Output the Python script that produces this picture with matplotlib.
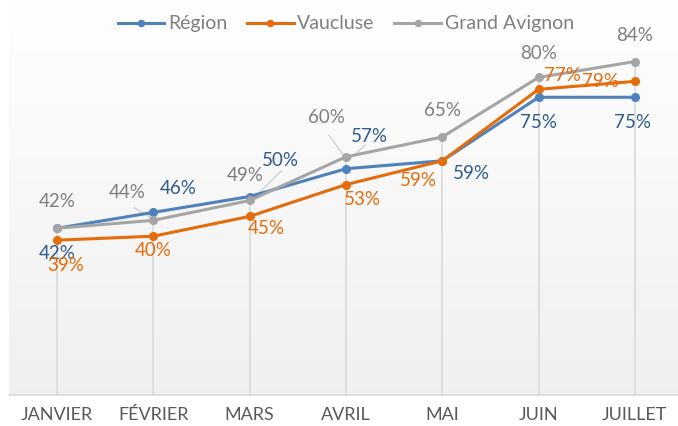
import numpy as np
from matplotlib import pyplot as plt

months = ["JANVIER", "FÉVRIER", "MARS", "AVRIL", "MAI", "JUIN", "JUILLET"]
region = [42, 46, 50, 57, 59, 75, 75]
vaucluse = [39, 40, 45, 53, 59, 77, 79]
avignon = [42, 44, 49, 60, 65, 80, 84]

blue = "#4f81bd"
orange = "#e46c0a"
grey = "#a5a5a5"

plt.rcParams['font.family'] = ['Lato', 'DejaVu Sans']

fig = plt.figure(figsize=(6.78, 4.26), dpi=100)
ax = fig.add_axes([9/678, 31/426, 674/678, 395/426])

x = np.arange(len(months))
ax.set_xlim(-0.5, 6.5)
ax.set_ylim(0, 99.5)

# fond en degradé blanc -> gris clair
grad = np.linspace(1.0, 0.94, 256).reshape(-1, 1)
ax.imshow(np.dstack([grad, grad, grad]), extent=[-0.5, 6.5, 0, 99.5],
          aspect='auto', zorder=0, origin='upper')

# lignes de projection
tops = np.maximum(np.maximum(region, vaucluse), avignon)
ax.vlines(x, 0, tops, color="#d9d9d9", lw=1.2, zorder=1)

ax.plot(x, region, color=blue, lw=2.2, marker='o', ms=5.5, label="Région", zorder=3)
ax.plot(x, vaucluse, color=orange, lw=2.2, marker='o', ms=5.5, label="Vaucluse", zorder=3)
ax.plot(x, avignon, color=grey, lw=2.2, marker='o', ms=5.5, label="Grand Avignon", zorder=3)

# traits de rappel
for (x0, y0), (x1, y1) in [((0.8, 47.2), (0.98, 44.6)), ((2.33, 56.5), (2.05, 49.8)),
                            ((2.82, 65.5), (2.98, 60.3)), ((3.2, 63), (3.02, 59))]:
    ax.plot([x0, x1], [y0, y1], color="#c8c8c8", lw=0.8, zorder=2)

# étiquettes (décalage en points)
reg_off = [(0, -18), (18, 17), (22, 26), (17, 23), (21, -9), (0, -18), (-2, -18)]
vau_off = [(6, -18), (0, -10), (12, -9), (12, -11), (-17, -14), (17, 10), (-25, 0)]
avi_off = [(0, 19), (-19, 20), (-3, 18), (-14, 28), (0, 19), (0, 17), (0, 19)]

lab_cols = [("#2e5b8c", region, reg_off), (orange, vaucluse, vau_off), ("#7f7f7f", avignon, avi_off)]
for col, vals, offs in lab_cols:
    for xi, v, off in zip(x, vals, offs):
        ax.annotate(f"{v}%", (xi, v), xytext=off, textcoords='offset points',
                    ha='center', va='center', fontsize=13.5, color=col, zorder=5)

ax.set_xticks(x)
ax.set_xticklabels(months, fontsize=13, color="#595959")
ax.tick_params(axis='x', length=0, pad=9)
ax.set_yticks([])
for s in ['top', 'left', 'right']:
    ax.spines[s].set_visible(False)
ax.spines['bottom'].set_color("#d9d9d9")
ax.spines['bottom'].set_linewidth(1.2)

leg = fig.legend(loc='upper center', bbox_to_anchor=(0.51, 1.005), ncol=3, frameon=False,
                 handlelength=2.4, columnspacing=1.0, handletextpad=0.2,
                 markerscale=0.8, prop={'size': 14})
for t in leg.get_texts():
    t.set_color("#7f7f7f")

fig.savefig("out.png", dpi=100)
